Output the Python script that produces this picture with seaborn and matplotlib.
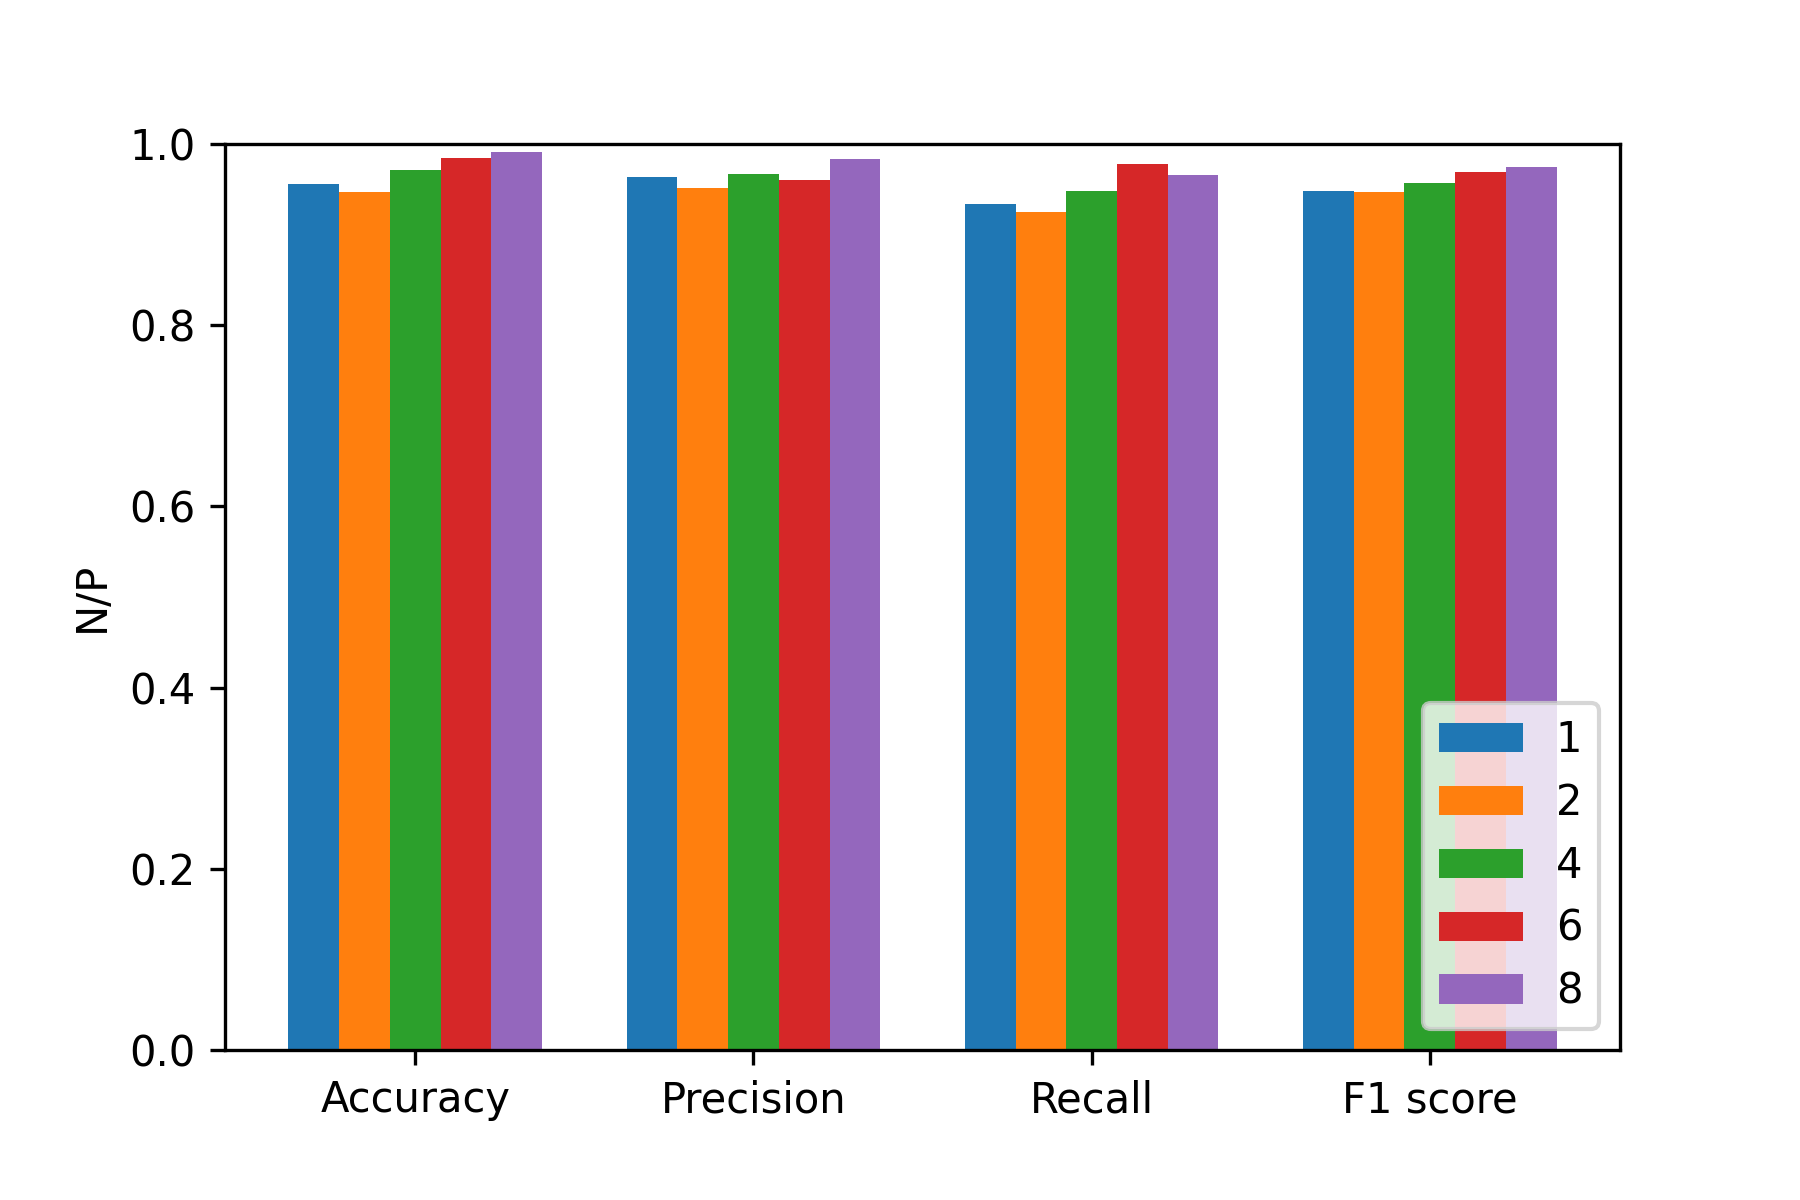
import pandas as pd
import seaborn as sns
import matplotlib.pyplot as plt

# metrics on the x axis, one bar per setting
metrics = ['Accuracy', 'Precision', 'Recall', 'F1 score']
settings = ['1', '2', '4', '6', '8']

scores_1 = [0.956, 0.964, 0.934, 0.948]
scores_2 = [0.947, 0.951, 0.925, 0.947]
scores_4 = [0.971, 0.967, 0.948, 0.957]
scores_6 = [0.985, 0.960, 0.978, 0.969]
scores_8 = [0.991, 0.983, 0.966, 0.975]

colors = ['#1f77b4', '#ff7f0e', '#2ca02c', '#d62728', '#9467bd']

# long form table for seaborn
rows = []
for s, vals in zip(settings, [scores_1, scores_2, scores_4, scores_6, scores_8]):
    for m, v in zip(metrics, vals):
        rows.append({'metric': m, 'setting': s, 'value': v})
df = pd.DataFrame(rows)

fig, ax = plt.subplots(figsize=(6, 4), dpi=300)
fig.subplots_adjust(bottom=0.125)

sns.barplot(
    data=df, x='metric', y='value', hue='setting',
    order=metrics, hue_order=settings, palette=colors,
    width=0.75, saturation=1, errorbar=None, linewidth=0, ax=ax
)

ax.set_xlim(-0.5625, 3.5625)
ax.set_ylim(0, 1.0)
ax.set_xlabel('')
ax.set_ylabel('N/P')

handles, labels = ax.get_legend_handles_labels()
ax.legend(handles, labels, loc='lower right')

plt.savefig('out.png', dpi=300)
